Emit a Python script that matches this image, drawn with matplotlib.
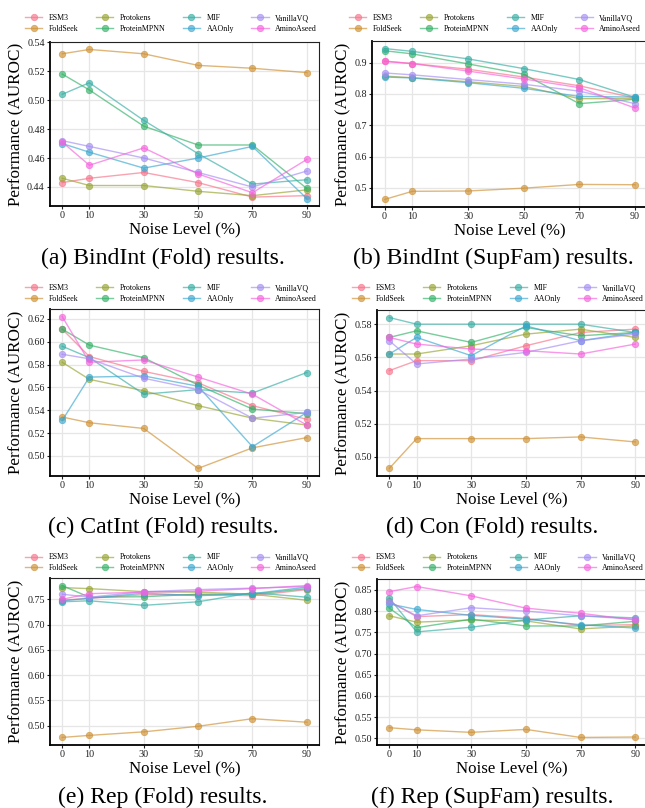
import matplotlib
matplotlib.use("Agg")
import matplotlib.pyplot as plt
from matplotlib.ticker import MultipleLocator
import seaborn as sns

plt.rcParams['font.family'] = ['Liberation Serif', 'DejaVu Serif']
plt.rcParams['mathtext.fontset'] = 'stix'

noise = [0, 10, 30, 50, 70, 90]
methods = ["ESM3", "FoldSeek", "Protokens", "ProteinMPNN",
           "MIF", "AAOnly", "VanillaVQ", "AminoAseed"]

# AUROC per method, one list per noise level sequence
bindint_fold = {
    "ESM3":        [0.443, 0.446, 0.450, 0.443, 0.433, 0.434],
    "FoldSeek":    [0.532, 0.535, 0.532, 0.524, 0.522, 0.519],
    "Protokens":   [0.446, 0.441, 0.441, 0.437, 0.434, 0.438],
    "ProteinMPNN": [0.518, 0.507, 0.482, 0.469, 0.469, 0.439],
    "MIF":         [0.504, 0.512, 0.486, 0.463, 0.442, 0.445],
    "AAOnly":      [0.470, 0.464, 0.453, 0.460, 0.468, 0.432],
    "VanillaVQ":   [0.472, 0.468, 0.460, 0.450, 0.440, 0.451],
    "AminoAseed":  [0.471, 0.455, 0.467, 0.449, 0.436, 0.459],
}
bindint_supfam = {
    "ESM3":        [0.905, 0.897, 0.879, 0.854, 0.826, 0.787],
    "FoldSeek":    [0.463, 0.489, 0.490, 0.499, 0.511, 0.510],
    "Protokens":   [0.857, 0.852, 0.839, 0.824, 0.785, 0.785],
    "ProteinMPNN": [0.938, 0.928, 0.896, 0.863, 0.769, 0.783],
    "MIF":         [0.945, 0.936, 0.912, 0.881, 0.846, 0.789],
    "AAOnly":      [0.854, 0.851, 0.836, 0.818, 0.792, 0.790],
    "VanillaVQ":   [0.867, 0.861, 0.846, 0.831, 0.809, 0.769],
    "AminoAseed":  [0.904, 0.897, 0.873, 0.848, 0.820, 0.755],
}
catint_fold = {
    "ESM3":        [0.611, 0.587, 0.574, 0.564, 0.544, 0.532],
    "FoldSeek":    [0.534, 0.529, 0.524, 0.489, 0.507, 0.516],
    "Protokens":   [0.582, 0.567, 0.557, 0.544, 0.533, 0.527],
    "ProteinMPNN": [0.611, 0.597, 0.586, 0.562, 0.541, 0.537],
    "MIF":         [0.596, 0.586, 0.554, 0.558, 0.555, 0.573],
    "AAOnly":      [0.531, 0.569, 0.570, 0.561, 0.508, 0.538],
    "VanillaVQ":   [0.589, 0.585, 0.568, 0.558, 0.533, 0.538],
    "AminoAseed":  [0.622, 0.582, 0.584, 0.569, 0.554, 0.527],
}
con_fold = {
    "ESM3":        [0.552, 0.558, 0.558, 0.567, 0.575, 0.577],
    "FoldSeek":    [0.493, 0.511, 0.511, 0.511, 0.512, 0.509],
    "Protokens":   [0.562, 0.562, 0.567, 0.574, 0.577, 0.572],
    "ProteinMPNN": [0.572, 0.576, 0.569, 0.578, 0.573, 0.575],
    "MIF":         [0.584, 0.580, 0.580, 0.580, 0.580, 0.575],
    "AAOnly":      [0.562, 0.572, 0.561, 0.579, 0.570, 0.575],
    "VanillaVQ":   [0.570, 0.556, 0.559, 0.563, 0.570, 0.574],
    "AminoAseed":  [0.572, 0.568, 0.565, 0.564, 0.562, 0.568],
}
rep_fold = {
    "ESM3":        [0.748, 0.752, 0.759, 0.759, 0.757, 0.769],
    "FoldSeek":    [0.477, 0.481, 0.488, 0.499, 0.514, 0.507],
    "Protokens":   [0.773, 0.771, 0.765, 0.764, 0.760, 0.748],
    "ProteinMPNN": [0.777, 0.754, 0.755, 0.760, 0.760, 0.771],
    "MIF":         [0.745, 0.747, 0.738, 0.745, 0.763, 0.754],
    "AAOnly":      [0.747, 0.752, 0.762, 0.757, 0.761, 0.774],
    "VanillaVQ":   [0.760, 0.754, 0.765, 0.769, 0.772, 0.775],
    "AminoAseed":  [0.750, 0.761, 0.764, 0.766, 0.771, 0.777],
}
rep_supfam = {
    "ESM3":        [0.823, 0.787, 0.792, 0.783, 0.766, 0.768],
    "FoldSeek":    [0.525, 0.520, 0.514, 0.521, 0.502, 0.503],
    "Protokens":   [0.789, 0.774, 0.779, 0.777, 0.758, 0.765],
    "ProteinMPNN": [0.807, 0.761, 0.781, 0.765, 0.765, 0.776],
    "MIF":         [0.831, 0.751, 0.762, 0.779, 0.789, 0.784],
    "AAOnly":      [0.817, 0.804, 0.790, 0.781, 0.768, 0.760],
    "VanillaVQ":   [0.822, 0.789, 0.808, 0.800, 0.789, 0.781],
    "AminoAseed":  [0.846, 0.858, 0.836, 0.807, 0.795, 0.779],
}

panels = [bindint_fold, bindint_supfam, catint_fold,
          con_fold, rep_fold, rep_supfam]
captions = ["(a) BindInt (Fold) results.", "(b) BindInt (SupFam) results.",
            "(c) CatInt (Fold) results.", "(d) Con (Fold) results.",
            "(e) Rep (Fold) results.", "(f) Rep (SupFam) results."]
ystep = [0.02, 0.1, 0.02, 0.02, 0.05, 0.05]

colors = sns.color_palette("husl", len(methods))

W, H = 645, 808
fig = plt.figure(figsize=(W / 100, H / 100), dpi=100)

# panel rectangles in pixels: left, top, right, bottom
boxes = [(50, 42, 319, 206), (372, 41, 647.5, 207),
         (50, 309, 319, 476), (377, 310, 647.5, 476),
         (50, 578, 319, 745), (377, 579, 647.5, 745)]
legend_xy = [(171, 23.5), (495, 23.5), (171, 293.4),
             (498, 293.4), (171, 562.7), (498, 562.7)]
caption_xy = [(163, 258), (493, 258), (163, 527),
              (492, 527), (163, 797), (492, 797)]


def px(x, y):
    return x / W, 1 - y / H


for i, data in enumerate(panels):
    l, t, r, b = boxes[i]
    ax = fig.add_axes([l / W, 1 - b / H, (r - l) / W, (b - t) / H])
    for m, c in zip(methods, colors):
        ax.plot(noise, data[m], marker='o', color=c, alpha=0.65,
                lw=1.0, ms=4.6, mew=0.6, label=m, zorder=3)
    ax.set_xticks(noise)
    ax.yaxis.set_major_locator(MultipleLocator(ystep[i]))
    ax.grid(True, color='#e6e6e6', lw=0.9, zorder=0)
    ax.set_axisbelow(True)
    for s in ['left', 'bottom']:
        ax.spines[s].set_linewidth(1.3)
        ax.spines[s].set_color('black')
    for s in ['top', 'right']:
        ax.spines[s].set_linewidth(0.8)
        ax.spines[s].set_color('#222222')
    ax.tick_params(axis='both', labelsize=7.3, length=2.2, width=0.8,
                   pad=1.5, colors='#222222')
    ax.set_xlabel("Noise Level (%)", fontsize=12.2, labelpad=1)
    ax.set_ylabel("Performance (AUROC)", fontsize=12.3, labelpad=2)
    lx, ly = legend_xy[i]
    fig.legend(*ax.get_legend_handles_labels(), loc='center',
               bbox_to_anchor=px(lx, ly), ncol=4, frameon=False,
               fontsize=5.7, handlelength=2.2, handletextpad=0.8,
               columnspacing=2.2, labelspacing=0.35, borderpad=0,
               borderaxespad=0)
    cx, cy = caption_xy[i]
    fig.text(*px(cx, cy), captions[i], fontsize=17.1,
             ha='center', va='center')

fig.savefig("out.png", dpi=100)
